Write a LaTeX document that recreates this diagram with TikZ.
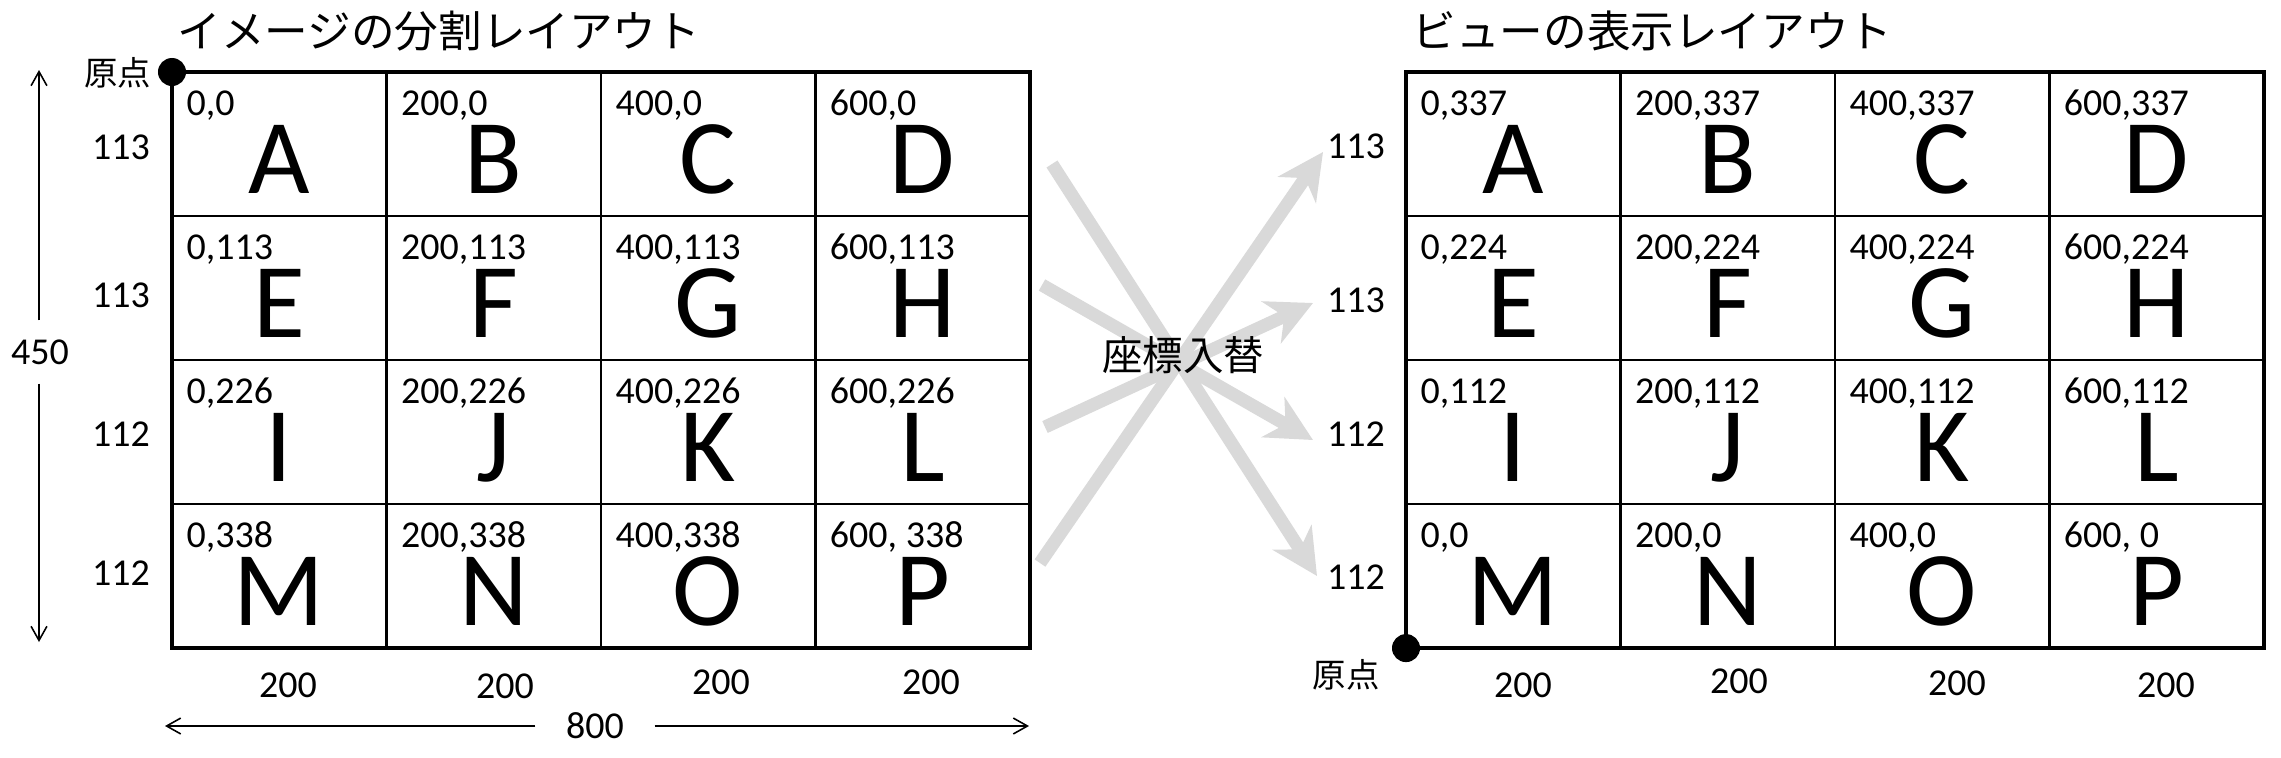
\documentclass[tikz,border=0pt]{standalone}
\usepackage{fontspec}
\setmainfont{Carlito}
\newfontfamily\jp{Noto Sans CJK JP}
\usetikzlibrary{arrows.meta,calc}
\definecolor{arrowgray}{HTML}{D9D9D9}
\tikzset{
  cell/.style={draw, line width=0.7pt, minimum width=2.144cm, minimum height=1.44cm, inner sep=0pt, outer sep=0pt, anchor=north west},
  outer/.style={draw, line width=1.05pt},
  big/.style={font=\fontsize{30.2}{32}\selectfont, anchor=base, inner sep=0pt},
  coordlbl/.style={font=\fontsize{10.8}{12}\selectfont, anchor=base west, inner sep=0pt},
  dim/.style={font=\fontsize{10.8}{12}\selectfont, inner sep=0pt},
  title/.style={font=\jp\fontsize{12.4}{14}\selectfont, anchor=west, inner sep=0pt},
  jpsmall/.style={font=\jp\fontsize{9.5}{11}\selectfont, inner sep=0pt},
  jpmid/.style={font=\jp\fontsize{11.5}{13}\selectfont, inner sep=0pt},
  origin/.style={circle, fill=black, minimum size=0.28cm, inner sep=0pt},
  dimarrow/.style={line width=0.45pt, -{Straight Barb[length=4pt,width=4.5pt]}},
  swaparrow/.style={draw=arrowgray, line width=3.7pt, -{Stealth[length=13pt,width=13pt,inset=4pt]}}
}
\newcommand\gcell[5]{%
  \node[cell] (#1) at (#2,#3) {};
  \node[big] (#1-t) at ($(#1.north)+(0,121)$) {#4};
  \node[coordlbl] (#1-c) at ($(#1.north west)+(14,43)$) {#5};
}
\begin{document}
\begin{tikzpicture}[x=0.01cm,y=-0.01cm]
\useasboundingbox (0,0) rectangle (2281,757);
\fill[white] (0,0) rectangle (2281,757);

% titles
\node[title] (t1) at (177,31) {イメージの分割レイアウト};
\node[title] (t2) at (1412,31) {ビューの表示レイアウト};

% left grid
\gcell{LA}{172}{72}{A}{0,0}
\gcell{LB}{386.4}{72}{B}{200,0}
\gcell{LC}{600.8}{72}{C}{400,0}
\gcell{LD}{815.2}{72}{D}{600,0}
\gcell{LE}{172}{216}{E}{0,113}
\gcell{LF}{386.4}{216}{F}{200,113}
\gcell{LG}{600.8}{216}{G}{400,113}
\gcell{LH}{815.2}{216}{H}{600,113}
\gcell{LI}{172}{360}{I}{0,226}
\gcell{LJ}{386.4}{360}{J}{200,226}
\gcell{LK}{600.8}{360}{K}{400,226}
\gcell{LL}{815.2}{360}{L}{600,226}
\gcell{LM}{172}{504}{M}{0,338}
\gcell{LN}{386.4}{504}{N}{200,338}
\gcell{LO}{600.8}{504}{O}{400,338}
\gcell{LP}{815.2}{504}{P}{600, 338}
\draw[outer] (LA.north west) rectangle (LP.south east);

% right grid
\gcell{RA}{1406}{72}{A}{0,337}
\gcell{RB}{1620.4}{72}{B}{200,337}
\gcell{RC}{1834.8}{72}{C}{400,337}
\gcell{RD}{2049.2}{72}{D}{600,337}
\gcell{RE}{1406}{216}{E}{0,224}
\gcell{RF}{1620.4}{216}{F}{200,224}
\gcell{RG}{1834.8}{216}{G}{400,224}
\gcell{RH}{2049.2}{216}{H}{600,224}
\gcell{RI}{1406}{360}{I}{0,112}
\gcell{RJ}{1620.4}{360}{J}{200,112}
\gcell{RK}{1834.8}{360}{K}{400,112}
\gcell{RL}{2049.2}{360}{L}{600,112}
\gcell{RM}{1406}{504}{M}{0,0}
\gcell{RN}{1620.4}{504}{N}{200,0}
\gcell{RO}{1834.8}{504}{O}{400,0}
\gcell{RP}{2049.2}{504}{P}{600, 0}
\draw[outer] (RA.north west) rectangle (RP.south east);

% origins
\node[origin] (o1) at (LA.north west) {};
\node[origin] (o2) at (RM.south west) {};
\node[jpsmall] (o1t) at (118,73) {原点};
\node[jpsmall] (o2t) at (1346,675) {原点};

% left row sizes
\node[dim] (lr1) at (121,147) {113};
\node[dim] (lr2) at (121,295) {113};
\node[dim] (lr3) at (121,434) {112};
\node[dim] (lr4) at (121,573) {112};
% right row sizes
\node[dim] (rr1) at (1356,146) {113};
\node[dim] (rr2) at (1356,300) {113};
\node[dim] (rr3) at (1356,434) {112};
\node[dim] (rr4) at (1356,577) {112};
% column sizes
\node[dim] (lc1) at (288,685) {200};
\node[dim] (lc2) at (505,686) {200};
\node[dim] (lc3) at (721,682) {200};
\node[dim] (lc4) at (931,682) {200};
\node[dim] (rc1) at (1523,685) {200};
\node[dim] (rc2) at (1739,681) {200};
\node[dim] (rc3) at (1957,683) {200};
\node[dim] (rc4) at (2166,685) {200};

% total dimensions
\coordinate (vt) at (39,70);
\coordinate (vb) at (39,642);
\node[dim, inner ysep=0.185cm] (d450) at (40,352) {450};
\draw[dimarrow] (d450.north -| vt) -- (vt);
\draw[dimarrow] (d450.south -| vb) -- (vb);
\coordinate (hl) at (165,726);
\coordinate (hr) at (1029,726);
\node[dim, inner xsep=0.3cm] (d800) at (595,726) {800};
\draw[dimarrow] (d800.west) -- (hl);
\draw[dimarrow] (d800.east) -- (hr);

% swap arrows
\coordinate (s1) at (1052,164); \coordinate (e1) at (1317,576);
\coordinate (s2) at (1042,285); \coordinate (e2) at (1313,440);
\coordinate (s3) at (1045,427); \coordinate (e3) at (1313,303);
\coordinate (s4) at (1040,563); \coordinate (e4) at (1323,152);
\draw[swaparrow] (s1) -- (e1);
\draw[swaparrow] (s2) -- (e2);
\draw[swaparrow] (s3) -- (e3);
\draw[swaparrow] (s4) -- (e4);
\node[jpmid] (swp) at (1183,355) {座標入替};
\end{tikzpicture}
\end{document}
